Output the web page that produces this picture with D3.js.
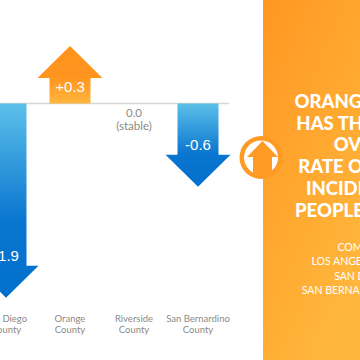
<!DOCTYPE html>
<html>
<head>
<meta charset="utf-8">
<script src="https://cdnjs.cloudflare.com/ajax/libs/d3/7.8.5/d3.min.js"></script>
<style>
  html, body { margin:0; padding:0; background:#fff; overflow:hidden; }
  svg { display:block; }
  text { font-family:Lato, "Open Sans", sans-serif; }
</style>
</head>
<body>
<div id="chart"></div>
<script>
var counties = ["San Diego", "Orange", "Riverside", "San Bernardino"];
var changes = [-1.9, 0.3, 0, -0.6];
var changeLabels = ["-1.9", "+0.3", "0.0", "-0.6"];
var headlineLines = ["ORANGE COUNTY", "HAS THE LOWEST", "OVERALL", "RATE OF CANCER", "INCIDENCE PER", "PEOPLE OVER 65+"];
var noteLines = ["COMPARED TO", "LOS ANGELES, RIVERSIDE,", "SAN DIEGO AND", "SAN BERNARDINO COUNTIES"];

var width = 360, height = 360, baseY = 103.5, headH = 32;

var svg = d3.select("#chart").append("svg")
    .attr("width", width)
    .attr("height", height);

var defs = svg.append("defs");

function addGradient(id, x1, y1, x2, y2, stops) {
    var grad = defs.append("linearGradient")
        .attr("id", id)
        .attr("x1", x1).attr("y1", y1).attr("x2", x2).attr("y2", y2);
    stops.forEach(function(s) {
        grad.append("stop").attr("offset", s[0]).attr("stop-color", s[1]);
    });
}
addGradient("panelGrad", 0, 0, 0.6, 1, [[0, "#ff9722"], [1, "#ffb63c"]]);
addGradient("upGrad", 0, 1, 0, 0, [[0, "#ffb63f"], [0.45, "#ff951f"], [1, "#ff931c"]]);
addGradient("downGrad", 0, 0, 0, 1, [[0, "#5cc0e9"], [0.6, "#0a76d0"], [1, "#0070cc"]]);

var x = d3.scaleBand().domain(counties).range([-26, 230]);
var y = d3.scaleLinear().domain([0, 1]).range([0, 85.4]);

// baseline
svg.append("line")
    .attr("x1", 0).attr("x2", 229)
    .attr("y1", baseY).attr("y2", baseY)
    .attr("stroke", "#d6d6d2")
    .attr("stroke-width", 1.5);

var arrowData = counties.map(function(c, i) {
    return { county: c, value: changes[i], label: changeLabels[i] };
});

function arrowPath(d) {
    var cx = x(d.county) + x.bandwidth() / 2;
    var dir = d.value > 0 ? -1 : 1;
    var neck = baseY + dir * y(Math.abs(d.value));
    var tip = neck + dir * headH;
    return d3.line()([
        [cx - 20.5, baseY], [cx - 20.5, neck], [cx - 32.5, neck], [cx, tip],
        [cx + 32.5, neck], [cx + 20.5, neck], [cx + 20.5, baseY]
    ]) + "Z";
}

svg.selectAll(".arrow")
    .data(arrowData.filter(function(d) { return d.value !== 0; }))
    .enter().append("path")
    .attr("class", "arrow")
    .attr("d", arrowPath)
    .attr("fill", function(d) { return d.value > 0 ? "url(#upGrad)" : "url(#downGrad)"; });

svg.selectAll(".change")
    .data(arrowData.filter(function(d) { return d.value !== 0; }))
    .enter().append("text")
    .attr("class", "change")
    .attr("x", function(d) { return x(d.county) + x.bandwidth() / 2; })
    .attr("y", function(d) {
        return d.value > 0 ? baseY - y(d.value) + 14.5 : baseY + y(-d.value) - 4.5;
    })
    .attr("text-anchor", "middle")
    .attr("fill", "#fff")
    .style("font-family", "Liberation Sans, sans-serif")
    .style("font-size", "15px")
    .text(function(d) { return d.label; });

// stable label
var stable = svg.append("g")
    .attr("text-anchor", "middle")
    .attr("fill", "#8b8b86")
    .style("font-size", "11.5px");
stable.append("text")
    .attr("x", x("Riverside") + x.bandwidth() / 2)
    .attr("y", 116.5)
    .text(changeLabels[2]);
stable.append("text")
    .attr("x", x("Riverside") + x.bandwidth() / 2)
    .attr("y", 129.5)
    .text("(stable)");

// county labels
var labels = svg.selectAll(".county")
    .data(counties)
    .enter().append("text")
    .attr("class", "county")
    .attr("text-anchor", "middle")
    .attr("fill", "#8b8b86")
    .style("font-size", "9.5px");
labels.append("tspan")
    .attr("x", function(d) { return x(d) + x.bandwidth() / 2; })
    .attr("y", 321.5)
    .text(function(d) { return d; });
labels.append("tspan")
    .attr("x", function(d) { return x(d) + x.bandwidth() / 2; })
    .attr("y", 332.5)
    .text("County");

// side panel
svg.append("rect")
    .attr("x", 263).attr("y", 0)
    .attr("width", 97).attr("height", 360)
    .attr("fill", "url(#panelGrad)");

svg.selectAll(".headline")
    .data(headlineLines)
    .enter().append("text")
    .attr("class", "headline")
    .attr("x", 375)
    .attr("y", function(d, i) { return 108 + i * 21.7; })
    .attr("text-anchor", "middle")
    .attr("fill", "#fff")
    .style("font-size", "18.5px")
    .style("font-weight", "900")
    .text(function(d) { return d; });

svg.selectAll(".note")
    .data(noteLines)
    .enter().append("text")
    .attr("class", "note")
    .attr("x", 375)
    .attr("y", function(d, i) { return 251 + i * 14.4; })
    .attr("text-anchor", "middle")
    .attr("fill", "#fff")
    .style("font-size", "10.5px")
    .text(function(d) { return d; });

// badge
svg.append("circle")
    .attr("cx", 261).attr("cy", 157.5).attr("r", 21.5)
    .attr("fill", "#ff9a24");
svg.append("circle")
    .attr("cx", 261).attr("cy", 157.5).attr("r", 17)
    .attr("fill", "#fff");
svg.append("path")
    .attr("d", d3.line()([[262.5, 141], [278, 157], [272, 157], [272, 175], [253, 175], [253, 157], [247, 157]]) + "Z")
    .attr("fill", "#ff9a24");
</script>
</body>
</html>
